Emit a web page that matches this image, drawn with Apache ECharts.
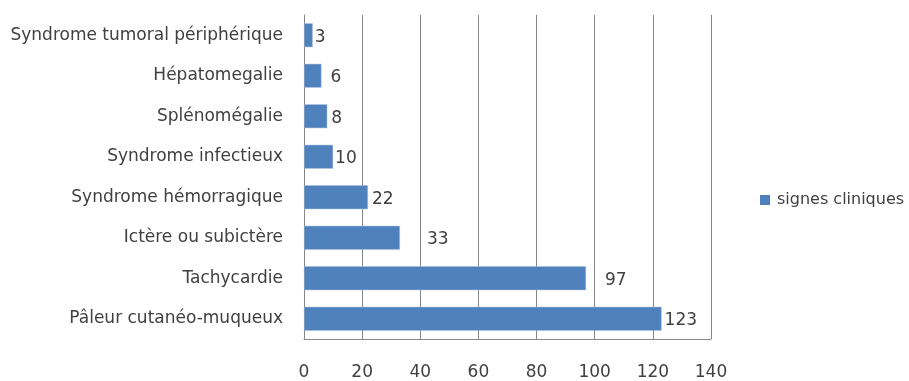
<!DOCTYPE html>
<html>
<head>
<meta charset="utf-8">
<script src="https://cdn.jsdelivr.net/npm/echarts@6/dist/echarts.min.js"></script>
<style>
  html, body { margin: 0; padding: 0; background: #ffffff; }
  #chart { width: 909px; height: 381px; }
</style>
</head>
<body>
<div id="chart"></div>
<script>
// Clinical signs, listed top to bottom as drawn
const categories = [
  'Syndrome tumoral périphérique',
  'Hépatomegalie',
  'Splénomégalie',
  'Syndrome infectieux',
  'Syndrome hémorragique',
  'Ictère ou subictère',
  'Tachycardie',
  'Pâleur cutanéo-muqueux'
];
const values = [3, 6, 8, 10, 22, 33, 97, 123];
const seriesName = 'signes cliniques';
const xTicks = [0, 20, 40, 60, 80, 100, 120, 140];

// Gap between bar end and its value label (style only)
const labelGap = [2, 9, 4, 2, 4, 27, 19, 3];

const FONT = 'DejaVu Sans';
const TEXT = '#404040';
const LINE = '#868686';
const BLUE = '#4F81BD';

const chart = echarts.init(document.getElementById('chart'), null, { renderer: 'canvas' });

chart.setOption({
  animation: false,
  backgroundColor: '#ffffff',
  textStyle: { fontFamily: FONT },
  grid: { left: 304, right: 198, top: 15, bottom: 42, containLabel: false },
  legend: {
    data: [seriesName],
    left: 760,
    top: 192,
    padding: 0,
    icon: 'rect',
    itemWidth: 10,
    itemHeight: 10,
    itemStyle: { borderWidth: 0 },
    textStyle: { fontFamily: FONT, fontSize: 16, color: TEXT, padding: [0, 0, 0, 2] }
  },
  xAxis: {
    type: 'value',
    min: xTicks[0],
    max: xTicks[xTicks.length - 1],
    interval: xTicks[1] - xTicks[0],
    axisLine: { show: true, lineStyle: { color: LINE, width: 1 } },
    axisTick: { show: false },
    axisLabel: { color: TEXT, fontFamily: FONT, fontSize: 17, margin: 25 },
    splitLine: { show: true, lineStyle: { color: LINE, width: 1 } }
  },
  yAxis: {
    type: 'category',
    data: categories,
    inverse: true,
    axisLine: { show: true, lineStyle: { color: LINE, width: 1 } },
    axisTick: { show: false },
    axisLabel: { color: TEXT, fontFamily: FONT, fontSize: 17, margin: 21 },
    splitLine: { show: false }
  },
  series: [{
    name: seriesName,
    type: 'bar',
    barCategoryGap: '41%',
    itemStyle: { color: BLUE, borderColor: '#a9c0df', borderWidth: 0.5 },
    data: values.map((v, i) => ({
      value: v,
      label: {
        show: true,
        position: 'right',
        distance: labelGap[i],
        offset: [0, 2],
        color: TEXT,
        fontFamily: FONT,
        fontSize: 17
      }
    }))
  }]
});
</script>
</body>
</html>
